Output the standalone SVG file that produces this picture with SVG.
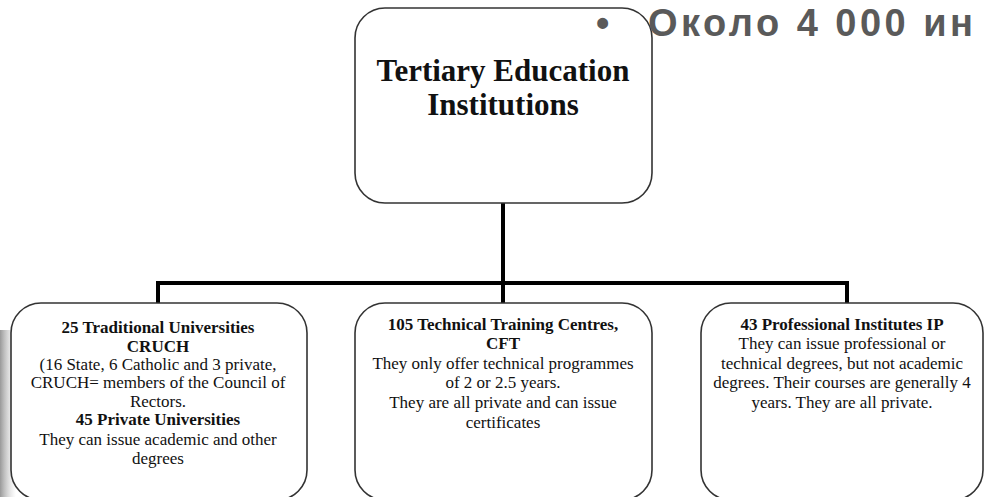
<svg xmlns="http://www.w3.org/2000/svg" width="987" height="497" viewBox="0 0 987 497">
<defs>
<linearGradient id="shade" x1="0" y1="0" x2="1" y2="0">
<stop offset="0" stop-color="#777" stop-opacity="0.75"/>
<stop offset="1" stop-color="#bbb" stop-opacity="0"/>
</linearGradient>
</defs>
<style>
.box{fill:#fff;stroke:#333;stroke-width:1.6}
.conn{fill:none;stroke:#000;stroke-width:4;stroke-linejoin:miter}
.t{font-family:"Liberation Serif","Times New Roman",serif;font-size:17px;fill:#111;text-anchor:middle}
.b{font-weight:bold}
.title{font-family:"Liberation Serif","Times New Roman",serif;font-size:31px;font-weight:bold;fill:#111;text-anchor:middle}
.ru{font-family:"Liberation Sans",Arial,sans-serif;font-size:38px;font-weight:bold;fill:#5a5a5a}
</style>
<rect width="987" height="497" fill="#fff"/>
<rect x="0" y="330" width="16" height="167" fill="url(#shade)"/>
<g id="connectors">
<line class="conn" x1="503" y1="203" x2="503" y2="303"/>
<polyline class="conn" points="158,303 158,283 847,283 847,303"/>
</g>
<g id="node-top">
<rect class="box" x="355" y="8" width="297" height="195" rx="30" ry="30"/>
<text class="title" x="503" y="81">Tertiary Education</text>
<text class="title" x="503" y="115">Institutions</text>
</g>
<g id="node-universities">
<rect class="box" x="11" y="303" width="296" height="197" rx="30" ry="30"/>
<text class="t b" x="158" y="333">25 Traditional Universities</text>
<text class="t b" x="158" y="352">CRUCH</text>
<text class="t" x="158" y="370">(16 State, 6 Catholic and 3 private,</text>
<text class="t" x="158" y="388">CRUCH= members of the Council of</text>
<text class="t" x="158" y="407">Rectors.</text>
<text class="t b" x="158" y="425">45 Private Universities</text>
<text class="t" x="158" y="445">They can issue academic and other</text>
<text class="t" x="158" y="464">degrees</text>
</g>
<g id="node-cft">
<rect class="box" x="355" y="303" width="297" height="197" rx="30" ry="30"/>
<text class="t b" x="503" y="330">105 Technical Training Centres,</text>
<text class="t b" x="503" y="349">CFT</text>
<text class="t" x="503" y="369">They only offer technical programmes</text>
<text class="t" x="503" y="388">of 2 or 2.5 years.</text>
<text class="t" x="503" y="408">They are all private and can issue</text>
<text class="t" x="503" y="428">certificates</text>
</g>
<g id="node-ip">
<rect class="box" x="701" y="303" width="282" height="197" rx="30" ry="30"/>
<text class="t b" x="842" y="330">43 Professional Institutes IP</text>
<text class="t" x="842" y="349">They can issue professional or</text>
<text class="t" x="842" y="369">technical degrees, but not academic</text>
<text class="t" x="842" y="388">degrees. Their courses are generally 4</text>
<text class="t" x="842" y="408">years. They are all private.</text>
</g>
<text class="ru" x="596" y="36">•</text>
<text class="ru" x="648" y="36" textLength="325" lengthAdjust="spacing">Около 4 000 ин</text>
</svg>
